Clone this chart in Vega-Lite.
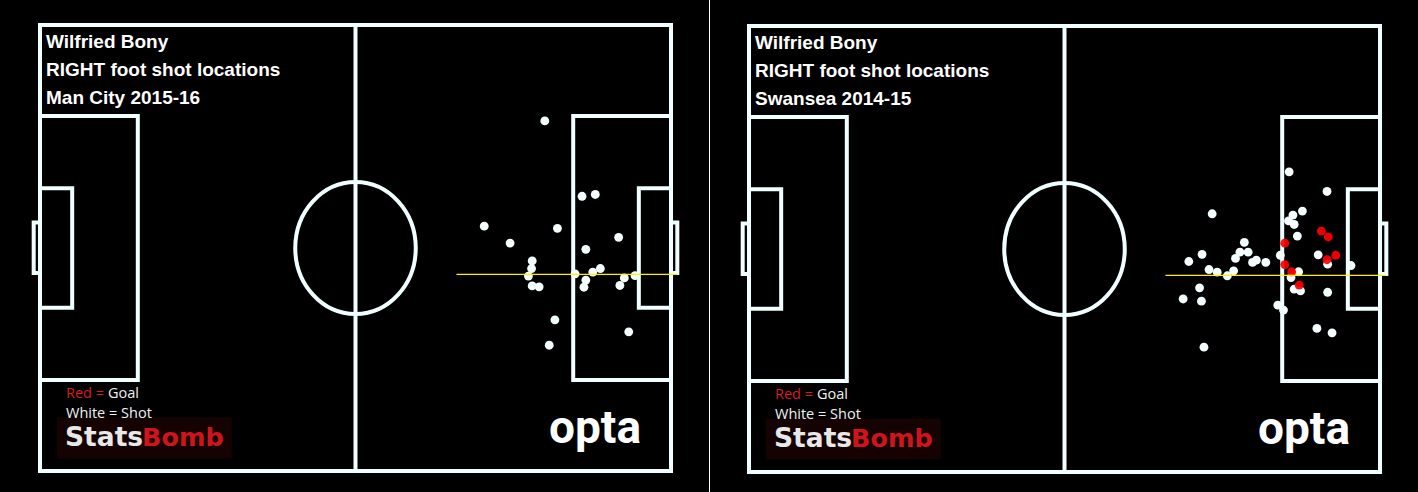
{
  "$schema": "https://vega.github.io/schema/vega-lite/v6.json",
  "background": "white",
  "padding": 0,
  "spacing": 1,
  "datasets": {
    "pitch": [
      {"kind": "box", "x": 0, "x2": 100, "y": 0, "y2": 100},
      {"kind": "box", "x": 0, "x2": 15.5, "y": 20.4, "y2": 79.6},
      {"kind": "box", "x": 84.5, "x2": 100, "y": 20.4, "y2": 79.6},
      {"kind": "box", "x": 0, "x2": 5.1, "y": 36.6, "y2": 63.4},
      {"kind": "box", "x": 94.9, "x2": 100, "y": 36.6, "y2": 63.4},
      {"kind": "box", "x": -1, "x2": 0, "y": 44.3, "y2": 55.6},
      {"kind": "box", "x": 100, "x2": 101, "y": 44.3, "y2": 55.6},
      {"kind": "halfway", "x": 50, "y": 0, "y2": 100},
      {"kind": "centre", "x": 50, "y": 50}
    ],
    "corners": [
      {"corner": "top-left", "x": 0, "y": 0},
      {"corner": "bottom-left", "x": 0, "y": 100},
      {"corner": "bottom-right", "x": 100, "y": 100}
    ],
    "badge": [{"x": 2.65, "x2": 30.4, "y": 88.0, "y2": 97.2}],
    "marker": [{"x": 66, "x2": 101, "y": 55.9}],
    "city": [
      {"x": 80.0, "y": 21.5, "outcome": "Shot"},
      {"x": 85.9, "y": 38.4, "outcome": "Shot"},
      {"x": 88.0, "y": 38.0, "outcome": "Shot"},
      {"x": 70.4, "y": 45.1, "outcome": "Shot"},
      {"x": 82.0, "y": 45.6, "outcome": "Shot"},
      {"x": 91.7, "y": 47.6, "outcome": "Shot"},
      {"x": 74.5, "y": 48.9, "outcome": "Shot"},
      {"x": 86.5, "y": 50.3, "outcome": "Shot"},
      {"x": 78.0, "y": 52.9, "outcome": "Shot"},
      {"x": 77.9, "y": 54.6, "outcome": "Shot"},
      {"x": 77.4, "y": 56.3, "outcome": "Shot"},
      {"x": 78.0, "y": 58.5, "outcome": "Shot"},
      {"x": 79.1, "y": 58.7, "outcome": "Shot"},
      {"x": 84.8, "y": 55.8, "outcome": "Shot"},
      {"x": 87.6, "y": 55.4, "outcome": "Shot"},
      {"x": 88.8, "y": 54.6, "outcome": "Shot"},
      {"x": 86.5, "y": 57.2, "outcome": "Shot"},
      {"x": 86.2, "y": 58.8, "outcome": "Shot"},
      {"x": 92.6, "y": 56.7, "outcome": "Shot"},
      {"x": 91.9, "y": 58.4, "outcome": "Shot"},
      {"x": 94.3, "y": 56.2, "outcome": "Shot"},
      {"x": 81.6, "y": 66.1, "outcome": "Shot"},
      {"x": 93.3, "y": 68.8, "outcome": "Shot"},
      {"x": 80.7, "y": 71.8, "outcome": "Shot"}
    ],
    "swansea": [
      {"x": 85.6, "y": 32.7, "outcome": "Shot"},
      {"x": 91.6, "y": 37.1, "outcome": "Shot"},
      {"x": 73.4, "y": 42.1, "outcome": "Shot"},
      {"x": 87.7, "y": 41.5, "outcome": "Shot"},
      {"x": 86.2, "y": 42.4, "outcome": "Shot"},
      {"x": 85.5, "y": 43.7, "outcome": "Shot"},
      {"x": 86.4, "y": 44.5, "outcome": "Shot"},
      {"x": 86.9, "y": 47.1, "outcome": "Shot"},
      {"x": 78.5, "y": 48.5, "outcome": "Shot"},
      {"x": 77.8, "y": 50.7, "outcome": "Shot"},
      {"x": 79.1, "y": 50.7, "outcome": "Shot"},
      {"x": 71.8, "y": 51.2, "outcome": "Shot"},
      {"x": 69.7, "y": 52.8, "outcome": "Shot"},
      {"x": 77.1, "y": 52.1, "outcome": "Shot"},
      {"x": 80.4, "y": 52.5, "outcome": "Shot"},
      {"x": 79.8, "y": 53.0, "outcome": "Shot"},
      {"x": 81.9, "y": 53.0, "outcome": "Shot"},
      {"x": 84.2, "y": 51.4, "outcome": "Shot"},
      {"x": 90.2, "y": 51.3, "outcome": "Shot"},
      {"x": 91.7, "y": 53.4, "outcome": "Shot"},
      {"x": 95.4, "y": 53.7, "outcome": "Shot"},
      {"x": 72.9, "y": 54.6, "outcome": "Shot"},
      {"x": 74.2, "y": 55.2, "outcome": "Shot"},
      {"x": 75.8, "y": 56.0, "outcome": "Shot"},
      {"x": 76.8, "y": 54.9, "outcome": "Shot"},
      {"x": 87.1, "y": 55.1, "outcome": "Shot"},
      {"x": 85.9, "y": 56.4, "outcome": "Shot"},
      {"x": 71.4, "y": 58.7, "outcome": "Shot"},
      {"x": 68.8, "y": 61.2, "outcome": "Shot"},
      {"x": 71.7, "y": 61.7, "outcome": "Shot"},
      {"x": 86.4, "y": 59.0, "outcome": "Shot"},
      {"x": 87.4, "y": 59.4, "outcome": "Shot"},
      {"x": 91.7, "y": 59.7, "outcome": "Shot"},
      {"x": 83.8, "y": 62.6, "outcome": "Shot"},
      {"x": 84.7, "y": 63.7, "outcome": "Shot"},
      {"x": 90.0, "y": 67.8, "outcome": "Shot"},
      {"x": 92.4, "y": 68.8, "outcome": "Shot"},
      {"x": 72.1, "y": 72.0, "outcome": "Shot"},
      {"x": 90.7, "y": 46.0, "outcome": "Goal"},
      {"x": 91.8, "y": 47.3, "outcome": "Goal"},
      {"x": 84.9, "y": 48.7, "outcome": "Goal"},
      {"x": 93.0, "y": 51.4, "outcome": "Goal"},
      {"x": 91.6, "y": 52.4, "outcome": "Goal"},
      {"x": 84.9, "y": 53.5, "outcome": "Goal"},
      {"x": 86.0, "y": 55.1, "outcome": "Goal"},
      {"x": 87.2, "y": 58.1, "outcome": "Goal"}
    ]
  },
  "hconcat": [
    {
      "width": 709,
      "height": 492,
      "encoding": {
        "x": {"field": "x", "type": "quantitative", "axis": null, "scale": {"domain": [-6.339, 106.02], "nice": false, "zero": false}},
        "y": {"field": "y", "type": "quantitative", "axis": null, "scale": {"domain": [-5.605, 104.71], "reverse": true, "nice": false, "zero": false}}
      },
      "layer": [
        {
          "data": {"name": "pitch"},
          "transform": [{"filter": "datum.kind === 'box'"}],
          "mark": {"type": "rect", "fill": null, "stroke": "#f0ffff", "strokeWidth": 4},
          "encoding": {"x2": {"field": "x2"}, "y2": {"field": "y2"}}
        },
        {
          "data": {"name": "pitch"},
          "transform": [{"filter": "datum.kind === 'halfway'"}],
          "mark": {"type": "rule", "stroke": "#f0ffff", "strokeWidth": 4},
          "encoding": {"y2": {"field": "y2"}}
        },
        {
          "data": {"name": "pitch"},
          "transform": [{"filter": "datum.kind === 'centre'"}],
          "mark": {"type": "point", "filled": false, "stroke": "#f0ffff", "strokeWidth": 4, "opacity": 1, "size": 17424, "shape": "M -0.913 0 A 0.913 1 0 1 1 0.913 0 A 0.913 1 0 1 1 -0.913 0 Z"}
        },
        {
          "data": {"name": "badge"},
          "mark": {"type": "rect", "fill": "#150303"},
          "encoding": {"x2": {"field": "x2"}, "y2": {"field": "y2"}}
        },
        {
          "data": {"name": "corners"},
          "transform": [{"filter": "datum.corner === 'top-left'"}],
          "mark": {"type": "text", "text": ["Wilfried Bony", "RIGHT foot shot locations", "Man City 2015-16"], "align": "left", "baseline": "alphabetic", "dx": 6, "dy": 23, "lineHeight": 28, "font": "Liberation Sans", "fontSize": 19, "fontWeight": "bold", "fill": "white"}
        },
        {
          "data": {"name": "corners"},
          "transform": [{"filter": "datum.corner === 'bottom-left'"}],
          "mark": {"type": "text", "text": "Red =", "align": "left", "baseline": "alphabetic", "dx": 26, "dy": -73, "font": "Open Sans", "fontSize": 14.5, "fill": "#dd1a1e"}
        },
        {
          "data": {"name": "corners"},
          "transform": [{"filter": "datum.corner === 'bottom-left'"}],
          "mark": {"type": "text", "text": "Goal", "align": "left", "baseline": "alphabetic", "dx": 68, "dy": -73, "font": "Open Sans", "fontSize": 14.5, "fill": "#f0f0f0"}
        },
        {
          "data": {"name": "corners"},
          "transform": [{"filter": "datum.corner === 'bottom-left'"}],
          "mark": {"type": "text", "text": "White = Shot", "align": "left", "baseline": "alphabetic", "dx": 26, "dy": -53, "font": "Open Sans", "fontSize": 14.5, "fill": "#f0f0f0"}
        },
        {
          "data": {"name": "corners"},
          "transform": [{"filter": "datum.corner === 'bottom-left'"}],
          "mark": {"type": "text", "text": "Stats", "align": "left", "baseline": "alphabetic", "dx": 25, "dy": -25, "font": "DejaVu Sans", "fontSize": 26.5, "fontWeight": "bold", "fill": "#e8e8e8"}
        },
        {
          "data": {"name": "corners"},
          "transform": [{"filter": "datum.corner === 'bottom-left'"}],
          "mark": {"type": "text", "text": "Bomb", "align": "left", "baseline": "alphabetic", "dx": 102, "dy": -25, "font": "DejaVu Sans", "fontSize": 25.5, "fontWeight": "bold", "fill": "#d0141b"}
        },
        {
          "data": {"name": "corners"},
          "transform": [{"filter": "datum.corner === 'bottom-right'"}],
          "mark": {"type": "text", "text": "opta", "align": "right", "baseline": "alphabetic", "dx": -30, "dy": -28, "font": "Roboto", "fontSize": 46, "fontWeight": "bold", "fill": "white"}
        },
        {
          "data": {"name": "city"},
          "mark": {"type": "circle", "size": 78, "opacity": 1},
          "encoding": {
            "color": {"field": "outcome", "type": "nominal", "legend": null, "scale": {"domain": ["Shot", "Goal"], "range": ["#f4fefe", "#ff0000"]}}
          }
        },
        {
          "data": {"name": "marker"},
          "mark": {"type": "rule", "stroke": "#ffee00", "strokeWidth": 1.2},
          "encoding": {"x2": {"field": "x2"}}
        }
      ]
    },
    {
      "width": 708,
      "height": 492,
      "encoding": {
        "x": {"field": "x", "type": "quantitative", "axis": null, "scale": {"domain": [-6.181, 106.02], "nice": false, "zero": false}},
        "y": {"field": "y", "type": "quantitative", "axis": null, "scale": {"domain": [-5.83, 104.48], "reverse": true, "nice": false, "zero": false}}
      },
      "layer": [
        {
          "data": {"name": "pitch"},
          "transform": [{"filter": "datum.kind === 'box'"}],
          "mark": {"type": "rect", "fill": null, "stroke": "#f0ffff", "strokeWidth": 4},
          "encoding": {"x2": {"field": "x2"}, "y2": {"field": "y2"}}
        },
        {
          "data": {"name": "pitch"},
          "transform": [{"filter": "datum.kind === 'halfway'"}],
          "mark": {"type": "rule", "stroke": "#f0ffff", "strokeWidth": 4},
          "encoding": {"y2": {"field": "y2"}}
        },
        {
          "data": {"name": "pitch"},
          "transform": [{"filter": "datum.kind === 'centre'"}],
          "mark": {"type": "point", "filled": false, "stroke": "#f0ffff", "strokeWidth": 4, "opacity": 1, "size": 17424, "shape": "M -0.913 0 A 0.913 1 0 1 1 0.913 0 A 0.913 1 0 1 1 -0.913 0 Z"}
        },
        {
          "data": {"name": "badge"},
          "mark": {"type": "rect", "fill": "#150303"},
          "encoding": {"x2": {"field": "x2"}, "y2": {"field": "y2"}}
        },
        {
          "data": {"name": "corners"},
          "transform": [{"filter": "datum.corner === 'top-left'"}],
          "mark": {"type": "text", "text": ["Wilfried Bony", "RIGHT foot shot locations", "Swansea 2014-15"], "align": "left", "baseline": "alphabetic", "dx": 6, "dy": 23, "lineHeight": 28, "font": "Liberation Sans", "fontSize": 19, "fontWeight": "bold", "fill": "white"}
        },
        {
          "data": {"name": "corners"},
          "transform": [{"filter": "datum.corner === 'bottom-left'"}],
          "mark": {"type": "text", "text": "Red =", "align": "left", "baseline": "alphabetic", "dx": 26, "dy": -73, "font": "Open Sans", "fontSize": 14.5, "fill": "#dd1a1e"}
        },
        {
          "data": {"name": "corners"},
          "transform": [{"filter": "datum.corner === 'bottom-left'"}],
          "mark": {"type": "text", "text": "Goal", "align": "left", "baseline": "alphabetic", "dx": 68, "dy": -73, "font": "Open Sans", "fontSize": 14.5, "fill": "#f0f0f0"}
        },
        {
          "data": {"name": "corners"},
          "transform": [{"filter": "datum.corner === 'bottom-left'"}],
          "mark": {"type": "text", "text": "White = Shot", "align": "left", "baseline": "alphabetic", "dx": 26, "dy": -53, "font": "Open Sans", "fontSize": 14.5, "fill": "#f0f0f0"}
        },
        {
          "data": {"name": "corners"},
          "transform": [{"filter": "datum.corner === 'bottom-left'"}],
          "mark": {"type": "text", "text": "Stats", "align": "left", "baseline": "alphabetic", "dx": 25, "dy": -25, "font": "DejaVu Sans", "fontSize": 26.5, "fontWeight": "bold", "fill": "#e8e8e8"}
        },
        {
          "data": {"name": "corners"},
          "transform": [{"filter": "datum.corner === 'bottom-left'"}],
          "mark": {"type": "text", "text": "Bomb", "align": "left", "baseline": "alphabetic", "dx": 102, "dy": -25, "font": "DejaVu Sans", "fontSize": 25.5, "fontWeight": "bold", "fill": "#d0141b"}
        },
        {
          "data": {"name": "corners"},
          "transform": [{"filter": "datum.corner === 'bottom-right'"}],
          "mark": {"type": "text", "text": "opta", "align": "right", "baseline": "alphabetic", "dx": -30, "dy": -28, "font": "Roboto", "fontSize": 46, "fontWeight": "bold", "fill": "white"}
        },
        {
          "data": {"name": "swansea"},
          "mark": {"type": "circle", "size": 78, "opacity": 1},
          "encoding": {
            "color": {"field": "outcome", "type": "nominal", "legend": null, "scale": {"domain": ["Shot", "Goal"], "range": ["#f4fefe", "#ff0000"]}},
            "opacity": {"condition": {"test": "datum.outcome === 'Goal'", "value": 0.92}, "value": 1}
          }
        },
        {
          "data": {"name": "marker"},
          "mark": {"type": "rule", "stroke": "#ffee00", "strokeWidth": 1.2},
          "encoding": {"x2": {"field": "x2"}}
        }
      ]
    }
  ],
  "config": {
    "view": {"stroke": null, "fill": "black"},
    "axis": {"disable": true}
  }
}
